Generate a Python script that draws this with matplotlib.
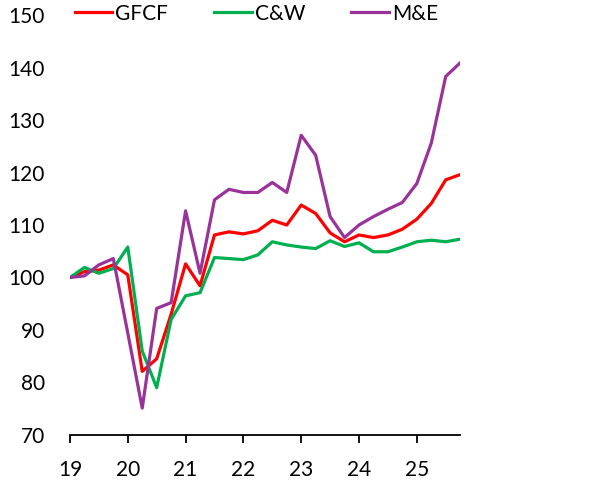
import numpy as np
import matplotlib
matplotlib.use('Agg')
import matplotlib.pyplot as plt

plt.rcParams['font.family'] = ['Lato', 'DejaVu Sans']

# quarterly index, 2019Q1 .. 2025Q4 (x axis labelled by 2-digit year)
quarters = np.arange(28)
years = [19, 20, 21, 22, 23, 24, 25]

gfcf = [100.0, 101.1, 101.4, 102.4, 100.5, 82.1, 84.5, 93.0, 102.6, 98.4,
        108.1, 108.7, 108.3, 108.9, 110.9, 110.0, 113.8, 112.2, 108.5, 106.8,
        108.1, 107.6, 108.1, 109.2, 111.1, 114.1, 118.6, 119.6]
cw = [100.0, 101.9, 100.8, 101.7, 105.8, 86.0, 79.0, 92.0, 96.5, 97.1,
      103.8, 103.6, 103.4, 104.3, 106.8, 106.2, 105.8, 105.5, 107.0, 105.9,
      106.6, 104.9, 104.9, 105.8, 106.8, 107.1, 106.8, 107.3]
me = [100.0, 100.3, 102.4, 103.6, 89.4, 75.1, 94.1, 95.2, 112.7, 100.8,
      114.8, 116.8, 116.2, 116.2, 118.1, 116.2, 127.1, 123.3, 111.6, 107.6,
      110.0, 111.6, 113.0, 114.3, 117.9, 125.6, 138.3, 140.9]

x = 19 + quarters / 4.0

fig = plt.figure(figsize=(5.93, 4.87), dpi=100)
ax = fig.add_axes([0.118, 0.107, 0.658, 0.862])

ax.plot(x, gfcf, color='#FF0000', lw=2.3, label='GFCF')
ax.plot(x, cw, color='#00B050', lw=2.3, label='C&W')
ax.plot(x, me, color='#993399', lw=2.3, label='M&E')

ax.set_xlim(19, 19 + 27 / 4.0)
ax.set_ylim(70, 150)
ax.set_xticks(years)
ax.set_xticklabels([str(y) for y in years])
ax.set_yticks(range(70, 151, 10))

for s in ['top', 'right', 'left']:
    ax.spines[s].set_visible(False)
ax.spines['bottom'].set_linewidth(1.3)
ax.tick_params(axis='x', direction='out', length=6, width=1.3, pad=12, labelsize=15)
ax.tick_params(axis='y', length=0, pad=18, labelsize=15)

fig.legend(loc='center left', bbox_to_anchor=(0.126, 0.972), ncol=3, frameon=False,
           fontsize=15, handlelength=1.8, handletextpad=0.15, columnspacing=2.2,
           borderaxespad=0, borderpad=0)

fig.savefig('out.png', dpi=100)
